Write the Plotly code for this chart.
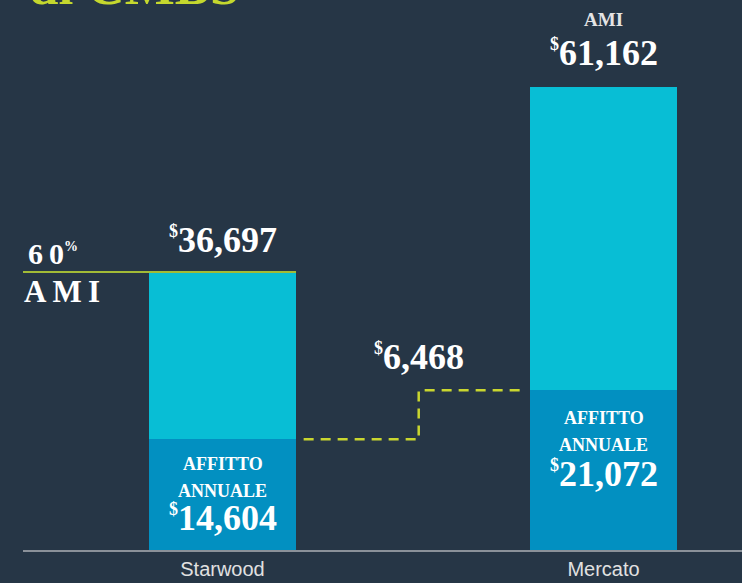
import plotly.graph_objects as go

# ---- data ----
categories = ["Starwood", "Mercato"]
annual_rent = [14604, 21072]       # AFFITTO ANNUALE
ami_values = [36697, 61162]        # 60% AMI / AMI
gap_value = annual_rent[1] - annual_rent[0]  # 6,468
title_text = "di CMBS"

# ---- style ----
BG = "#263646"
CYAN = "#08bed5"
DARK = "#0290c1"
LIME = "#c9d62f"
OLIVE = "#a2bb36"
SERIF = "Liberation Serif, Times New Roman, serif"
NARROW = "Liberation Sans Narrow, Arial Narrow, Liberation Sans, sans-serif"

xpos = [0, 1]
bw = 0.386
xmin, xmax = -0.5236, 1.3635
ymax = 72600

def money(v, dsize=18):
    return f"<sup><span style='font-size:{dsize}px'>$</span></sup>{v:,.0f}"

def sfont(size, color="#ffffff"):
    return dict(family=SERIF, size=size, color=color, weight="bold")

fig = go.Figure()
fig.add_trace(go.Bar(x=xpos, y=annual_rent, width=bw, marker=dict(color=DARK, line=dict(width=0)),
                     hoverinfo="skip"))
fig.add_trace(go.Bar(x=xpos, y=[a - r for a, r in zip(ami_values, annual_rent)], width=bw,
                     marker=dict(color=CYAN, line=dict(width=0)), hoverinfo="skip"))

# dashed step between the two rent levels
x_start = xpos[0] + bw / 2 + 0.02
x_end = xpos[1] - bw / 2 - 0.02
x_mid = 0.515
fig.add_trace(go.Scatter(x=[x_start, x_mid, x_mid, x_end],
                         y=[annual_rent[0], annual_rent[0], annual_rent[1], annual_rent[1]],
                         mode="lines", line=dict(color=LIME, width=2.5, dash="10px,7px"),
                         hoverinfo="skip"))

# 60% AMI line
fig.add_shape(type="line", xref="x", yref="y", x0=xmin, x1=xpos[0] + bw / 2,
              y0=ami_values[0], y1=ami_values[0], line=dict(color=OLIVE, width=2))

ann = []
# totals on top
ann.append(dict(x=xpos[0], y=ami_values[0], text=money(ami_values[0]), yshift=32, font=sfont(36)))
ann.append(dict(x=xpos[1], y=ami_values[1], text=money(ami_values[1]), yshift=34, font=sfont(36)))
ann.append(dict(x=xpos[1], y=ami_values[1], text="AMI", yshift=67, font=sfont(19, "#e4e4e4")))
# 60% AMI label
ann.append(dict(x=0, xref="paper", xanchor="left", xshift=3, y=ami_values[0], yshift=18,
                text="6\u20090<sup><span style='font-size:14px'>%</span></sup>", font=sfont(30)))
ann.append(dict(x=0, xref="paper", xanchor="left", xshift=-1, y=ami_values[0], yshift=-20,
                text="A\u2009M\u2009I", font=sfont(31)))
# gap label
ann.append(dict(x=x_mid, y=annual_rent[1], text=money(gap_value), yshift=33, font=sfont(36)))
# rent labels inside bars
offs = [(25, 52, 79), (28, 55, 84)]
for i in range(2):
    o = offs[i]
    ann.append(dict(x=xpos[i], y=annual_rent[i], text="AFFITTO", yshift=-o[0], font=sfont(18)))
    ann.append(dict(x=xpos[i], y=annual_rent[i], text="ANNUALE", yshift=-o[1], font=sfont(18)))
    ann.append(dict(x=xpos[i], y=annual_rent[i], text=money(annual_rent[i]), yshift=-o[2],
                    font=sfont(36)))
for a in ann:
    a.setdefault("xref", "x")
    a.setdefault("yref", "y")
    a.setdefault("yanchor", "middle")
    a.setdefault("xanchor", "center")
    a["showarrow"] = False

# cut-off title at the top
ann.append(dict(x=0, xref="paper", xanchor="left", xshift=4, y=1, yref="paper", yanchor="bottom",
                yshift=-17, text=title_text, showarrow=False, font=sfont(53, "#c5d82e")))

fig.update_layout(
    width=742, height=583,
    margin=dict(l=23, r=0, t=0, b=33),
    paper_bgcolor=BG, plot_bgcolor=BG,
    barmode="stack", showlegend=False, bargap=0,
    annotations=ann,
    xaxis=dict(range=[xmin, xmax], tickvals=xpos, ticktext=categories, showgrid=False,
               zeroline=False, showline=True, linecolor="#8a9199", linewidth=2, ticks="",
               tickfont=dict(family=NARROW, size=20, color="#e1e1e1"), fixedrange=True),
    yaxis=dict(range=[0, ymax], visible=False, showgrid=False, zeroline=False, fixedrange=True),
)
fig.write_html("out.html", config={"displayModeBar": False},
               post_script="document.body.style.margin='0';document.body.style.overflow='hidden';")
